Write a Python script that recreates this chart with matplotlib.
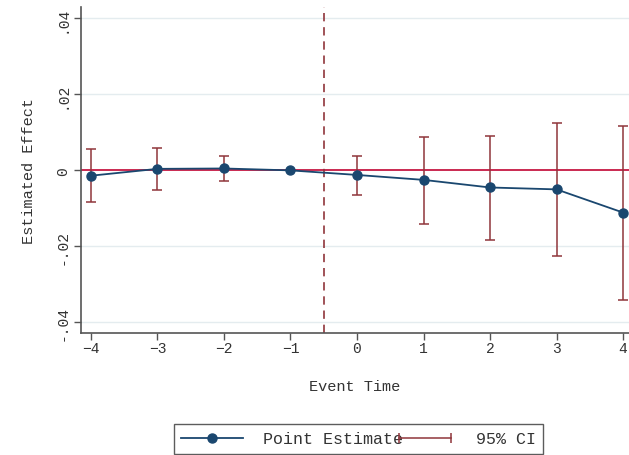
import matplotlib
matplotlib.use("Agg")
import matplotlib.pyplot as plt
from matplotlib.lines import Line2D
from matplotlib.legend_handler import HandlerLine2D

event_time = [-4, -3, -2, -1, 0, 1, 2, 3, 4]
estimate = [-0.0014, 0.0004, 0.0005, 0.0000, -0.0012, -0.0025, -0.0045, -0.0050, -0.0111]
ci_low = [-0.0084, -0.0051, -0.0028, 0.0000, -0.0064, -0.0141, -0.0182, -0.0225, -0.0340]
ci_high = [0.0057, 0.0059, 0.0039, 0.0000, 0.0039, 0.0089, 0.0091, 0.0126, 0.0118]
y_ticks = [-0.04, -0.02, 0, 0.02, 0.04]
y_tick_labels = ["-.04", "-.02", "0", ".02", ".04"]

navy = "#1a476f"
maroon = "#90353b"
zero_red = "#c10534"
grid_c = "#e4ecef"
text_c = "#333333"

plt.rcParams['font.family'] = ['Liberation Mono', 'DejaVu Sans Mono']

fig = plt.figure(figsize=(6.29, 4.56), dpi=100)
ax = fig.add_axes([81/629, 1-334/456, 1-81/629, (334-8)/456])

ax.set_xlim(-4.15, 4.09)
ax.set_ylim(-0.0428, 0.043)

for yv in y_ticks:
    if yv != 0:
        ax.axhline(yv, color=grid_c, lw=1.0, zorder=0)

ax.axhline(0, color=zero_red, lw=1.2, zorder=1)
ax.axvline(-0.5, color=maroon, lw=1.2, ls=(0, (5, 3.5)), zorder=1)

yerr = [[e - l for e, l in zip(estimate, ci_low)], [h - e for e, h in zip(estimate, ci_high)]]
ax.errorbar(event_time, estimate, yerr=yerr, fmt='none', ecolor=maroon, elinewidth=1.1,
            capsize=3.5, capthick=1.1, zorder=2)
ax.plot(event_time, estimate, color=navy, lw=1.3, marker='o', ms=6.5, zorder=3)

ax.set_xticks(event_time)
ax.set_xticklabels([str(t).replace('-', '\u2212') for t in event_time])
ax.set_yticks(y_ticks)
ax.set_yticklabels(y_tick_labels, rotation=90, va='center')
ax.tick_params(axis='both', length=5, width=1, color='#555555', labelsize=10.5, labelcolor=text_c)
ax.tick_params(axis='x', pad=1)
ax.tick_params(axis='y', pad=3)

for s in ['top', 'right']:
    ax.spines[s].set_visible(False)
for s in ['left', 'bottom']:
    ax.spines[s].set_color('#555555')
    ax.spines[s].set_linewidth(1.2)

ax.set_xlabel("Event Time", fontsize=11, color=text_c, labelpad=17)
ax.set_ylabel("Estimated Effect", fontsize=11, color=text_c, labelpad=14)

h1 = Line2D([], [], color=navy, lw=1.3, marker='o', ms=6.5)
h2 = Line2D([], [], color=maroon, lw=1.1, marker='|', ms=7, mew=1.1)
leg = fig.legend([h1, h2], ["Point Estimate", "95% CI"], ncol=2, loc='lower left',
                 bbox_to_anchor=(174/629, 1-455/456), borderaxespad=0,
                 fontsize=12, frameon=True, fancybox=False,
                 handlelength=3.7, handletextpad=1.2, columnspacing=-0.55, borderpad=0.45,
                 handler_map={h1: HandlerLine2D(numpoints=1), h2: HandlerLine2D(numpoints=2)})
leg.get_frame().set_edgecolor('#333333')
leg.get_frame().set_linewidth(1.0)
for t in leg.get_texts():
    t.set_color(text_c)

fig.savefig("out.png", dpi=100)
